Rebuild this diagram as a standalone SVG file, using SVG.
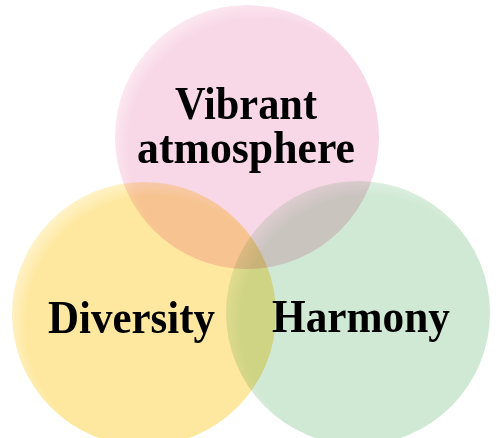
<svg xmlns="http://www.w3.org/2000/svg" width="503" height="438" viewBox="0 0 503 438">
<style>
.c{mix-blend-mode:multiply}
.t{font-family:"Liberation Serif","Times New Roman",serif;font-weight:bold;font-size:47px;fill:#000;text-anchor:middle}
</style>
<defs>
<radialGradient id="gp" cx="0.54" cy="0.54" r="0.56">
<stop offset="0.87" stop-color="#F8D7E6"/>
<stop offset="1" stop-color="#FCEAF2"/>
</radialGradient>
<radialGradient id="gy" cx="0.54" cy="0.54" r="0.56">
<stop offset="0.87" stop-color="#FEE8A0"/>
<stop offset="1" stop-color="#FFF3CC"/>
</radialGradient>
<radialGradient id="gg" cx="0.54" cy="0.54" r="0.56">
<stop offset="0.87" stop-color="#D0E9D4"/>
<stop offset="1" stop-color="#E5F3E7"/>
</radialGradient>
</defs>
<rect width="503" height="438" fill="#fff"/>
<g id="vibrant">
<circle class="c" cx="247" cy="137" r="132" fill="url(#gp)"/>
</g>
<g id="diversity">
<circle class="c" cx="144" cy="314" r="132" fill="url(#gy)"/>
</g>
<g id="harmony">
<circle class="c" cx="358" cy="313" r="132" fill="url(#gg)"/>
</g>
<g id="connectors"/>
<g id="labels">
<text class="t"><tspan x="246" y="119" textLength="142" lengthAdjust="spacingAndGlyphs">Vibrant</tspan><tspan x="246" y="163" textLength="218" lengthAdjust="spacingAndGlyphs">atmosphere</tspan></text>
<text class="t" x="131.5" y="333" textLength="167" lengthAdjust="spacingAndGlyphs">Diversity</text>
<text class="t" x="361" y="332" textLength="178" lengthAdjust="spacingAndGlyphs">Harmony</text>
</g>
</svg>
